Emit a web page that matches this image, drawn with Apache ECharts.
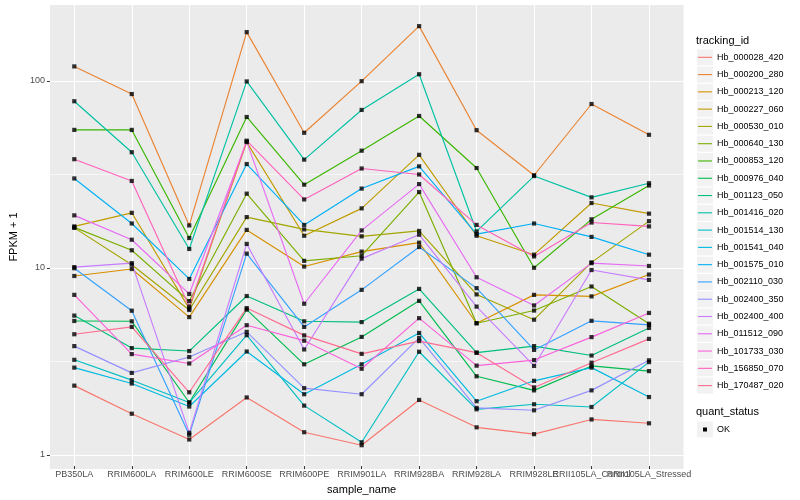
<!DOCTYPE html>
<html><head><meta charset="utf-8">
<script src="https://cdn.jsdelivr.net/npm/echarts@6/dist/echarts.min.js"></script>
<style>html,body{margin:0;padding:0;background:#fff}#main{width:800px;height:500px}</style>
</head><body><div id="main"></div>
<script>
const categories = ["PB350LA","RRIM600LA","RRIM600LE","RRIM600SE","RRIM600PE","RRIM901LA","RRIM928BA","RRIM928LA","RRIM928LE","RRII105LA_Control","RRII105LA_Stressed"];

const hb_000028_420 = [2.28, 1.61, 1.17, 1.97, 1.28, 1.09, 1.91, 1.36, 1.25, 1.50, 1.43];
const hb_000200_280 = [119, 84.5, 16.6, 182, 52.3, 99.1, 196, 54, 30.9, 74.7, 51];
const hb_000213_120 = [8.87, 9.67, 5.33, 15.7, 9.97, 12.0, 13.4, 4.94, 7.02, 6.89, 9.03];
const hb_000227_060 = [16.4, 19.4, 5.92, 46.6, 14.6, 20.5, 39.8, 14.6, 11.55, 21.9, 19.2];
const hb_000530_010 = [16.1, 10.2, 5.82, 18.4, 15.8, 14.5, 15.5, 7.06, 5.16, 10.5, 17.5];
const hb_000640_130 = [16.2, 12.2, 6.5, 24.6, 10.7, 11.4, 25.1, 4.94, 5.78, 7.79, 4.91];
const hb_000853_120 = [54.2, 54.2, 14.2, 63.6, 27.5, 41.9, 64.4, 33.8, 9.82, 17.9, 27.2];
const hb_000976_040 = [5.08, 5.06, 1.85, 5.85, 2.97, 4.17, 6.52, 2.56, 2.15, 2.91, 2.73];
const hb_001123_050 = [5.43, 3.63, 3.5, 6.92, 5.06, 5.01, 7.56, 3.43, 3.72, 3.31, 4.66];
const hb_001416_020 = [77.3, 41.1, 12.4, 98.8, 37.5, 69.4, 108, 15.4, 30.6, 23.5, 28.0];
const hb_001514_130 = [3.14, 2.44, 1.85, 4.26, 1.78, 1.13, 3.47, 1.70, 1.81, 1.75, 3.05];
const hb_001541_040 = [2.85, 2.34, 1.76, 3.48, 2.05, 2.97, 4.38, 1.88, 2.42, 2.85, 1.98];
const hb_001575_010 = [29.7, 17.0, 8.55, 35.5, 16.7, 26.2, 34.5, 14.9, 17.0, 14.4, 11.55];
const hb_002110_030 = [9.76, 5.77, 1.24, 11.7, 4.72, 7.47, 12.7, 7.63, 3.55, 5.09, 4.84];
const hb_002400_350 = [3.72, 2.67, 3.25, 4.44, 2.21, 2.05, 4.12, 1.73, 1.68, 2.15, 3.12];
const hb_002400_400 = [9.9, 10.4, 1.27, 13.2, 3.57, 11.0, 14.8, 6.07, 2.91, 9.55, 8.45];
const hb_011512_090 = [18.8, 13.9, 7.1, 46.9, 6.29, 15.6, 27.7, 8.73, 6.16, 10.4, 10.04];
const hb_101733_030 = [7.02, 3.37, 3.0, 4.82, 3.98, 2.81, 5.26, 2.92, 3.13, 4.16, 5.61];
const hb_156850_070 = [37.7, 28.8, 6.07, 47.4, 22.9, 33.6, 31.2, 16.7, 11.3, 17.2, 16.4];
const hb_170487_020 = [4.31, 4.72, 2.10, 5.96, 4.25, 3.38, 3.96, 3.43, 2.23, 3.03, 4.07];

const seriesNames = ["Hb_000028_420","Hb_000200_280","Hb_000213_120","Hb_000227_060","Hb_000530_010","Hb_000640_130","Hb_000853_120","Hb_000976_040","Hb_001123_050","Hb_001416_020","Hb_001514_130","Hb_001541_040","Hb_001575_010","Hb_002110_030","Hb_002400_350","Hb_002400_400","Hb_011512_090","Hb_101733_030","Hb_156850_070","Hb_170487_020"];
const seriesValues = [hb_000028_420, hb_000200_280, hb_000213_120, hb_000227_060, hb_000530_010, hb_000640_130, hb_000853_120, hb_000976_040, hb_001123_050, hb_001416_020, hb_001514_130, hb_001541_040, hb_001575_010, hb_002110_030, hb_002400_350, hb_002400_400, hb_011512_090, hb_101733_030, hb_156850_070, hb_170487_020];
const palette = ["#F8766D","#EA8331","#D89000","#C09B00","#A3A500","#7CAE00","#39B600","#00BB4E","#00BF7D","#00C1A3","#00BFC4","#00BAE0","#00B0F6","#35A2FF","#9590FF","#C77CFF","#E76BF3","#FA62DB","#FF62BC","#FF6C91"];

const yTicks = [1, 10, 100];
const yMinorTicks = [3.16228, 31.6228];
const yMin = 0.8414, yMax = 254.7;
const qualityLabels = ["OK"];

const font = "'Liberation Sans', Arial, Helvetica, sans-serif";

const chart = echarts.init(document.getElementById('main'), null, {renderer: 'canvas'});

const lineSeries = seriesNames.map((name, i) => ({
  type: 'line', name: name, xAxisIndex: 1, yAxisIndex: 2,
  data: seriesValues[i], symbol: 'none', showSymbol: false,
  lineStyle: {color: palette[i], width: 1.15}, itemStyle: {color: palette[i]},
  emphasis: {disabled: true}, silent: true, z: 2, animation: false
}));
const pointData = [];
seriesValues.forEach(vals => vals.forEach((v, j) => pointData.push([categories[j], v])));
const pointSeries = {
  type: 'scatter', name: qualityLabels[0], xAxisIndex: 1, yAxisIndex: 2,
  data: pointData, symbol: 'rect', symbolSize: 4.2,
  itemStyle: {color: '#000'}, z: 5, silent: true, animation: false
};

const legStart = 57.3, legStep = 17.28;
const graphics = [];
graphics.push({type: 'text', x: 696, y: 40.7, z: 1, style: {text: 'tracking_id', fontSize: 11, fontFamily: font, fill: '#000', verticalAlign: 'middle'}});
seriesNames.forEach((n, i) => {
  const c = legStart + i * legStep;
  graphics.push({type: 'rect', z: 1, shape: {x: 697, y: c - 8, width: 16, height: 16}, style: {fill: '#F2F2F2'}});
});
graphics.push({type: 'text', x: 696, y: 412.3, z: 1, style: {text: 'quant_status', fontSize: 11, fontFamily: font, fill: '#000', verticalAlign: 'middle'}});
graphics.push({type: 'rect', z: 1, shape: {x: 697, y: 421.5, width: 16, height: 16}, style: {fill: '#F2F2F2'}});
graphics.push({type: 'rect', z: 2, shape: {x: 703, y: 427.5, width: 4, height: 4}, style: {fill: '#000'}});
graphics.push({type: 'text', x: 717, y: 429.5, z: 1, style: {text: qualityLabels[0], fontSize: 9, fontFamily: font, fill: '#000', verticalAlign: 'middle'}});

const option = {
  animation: false,
  backgroundColor: '#FFFFFF',
  textStyle: {fontFamily: font},
  grid: [
    {left: 39.8, top: 5, width: 643.7, height: 464, show: true, backgroundColor: '#EBEBEB', borderWidth: 0},
    {left: 74.3, top: 5, width: 574.7, height: 464, show: false}
  ],
  xAxis: [
    {gridIndex: 0, type: 'value', min: 0, max: 1, show: false},
    {gridIndex: 1, type: 'category', data: categories, boundaryGap: false,
     axisLine: {show: false},
     axisTick: {show: true, length: 3, lineStyle: {color: '#333333', width: 1}},
     axisLabel: {interval: 0, color: '#4D4D4D', fontSize: 9, fontFamily: font, margin: 4, hideOverlap: false},
     splitLine: {show: true, lineStyle: {color: '#FFFFFF', width: 1.1}},
     name: 'sample_name', nameLocation: 'middle', nameGap: 15,
     nameTextStyle: {fontSize: 11, color: '#000', fontFamily: font}}
  ],
  yAxis: [
    {gridIndex: 0, type: 'log', logBase: 10, min: yMin, max: yMax, position: 'left',
     axisLine: {show: false},
     axisTick: {show: true, length: 3, lineStyle: {color: '#333333', width: 1}, customValues: yTicks},
     axisLabel: {customValues: yTicks, color: '#4D4D4D', fontSize: 9, fontFamily: font, margin: 5},
     splitLine: {show: true, lineStyle: {color: '#FFFFFF', width: 1.1}},
     name: 'FPKM + 1', nameLocation: 'middle', nameGap: 24, nameRotate: 90,
     nameTextStyle: {fontSize: 11, color: '#000', fontFamily: font}},
    {gridIndex: 0, type: 'log', logBase: 10, min: yMin, max: yMax, position: 'right',
     axisLine: {show: false},
     axisTick: {show: false, customValues: yMinorTicks},
     axisLabel: {show: false, customValues: yMinorTicks},
     splitLine: {show: true, lineStyle: {color: '#FFFFFF', width: 0.6}}},
    {gridIndex: 1, type: 'log', logBase: 10, min: yMin, max: yMax, show: false}
  ],
  legend: {
    orient: 'vertical', left: 698, top: 48.66, itemGap: 0, itemWidth: 14, itemHeight: 1.1,
    icon: 'rect', padding: 0, selectedMode: false, z: 5,
    data: seriesNames.map((n, i) => ({name: n, itemStyle: {color: palette[i]}})),
    textStyle: {fontSize: 9, fontFamily: font, color: '#000', lineHeight: 17.28}
  },
  graphic: graphics,
  series: lineSeries.concat([pointSeries])
};
chart.setOption(option);
</script>
</body></html>
